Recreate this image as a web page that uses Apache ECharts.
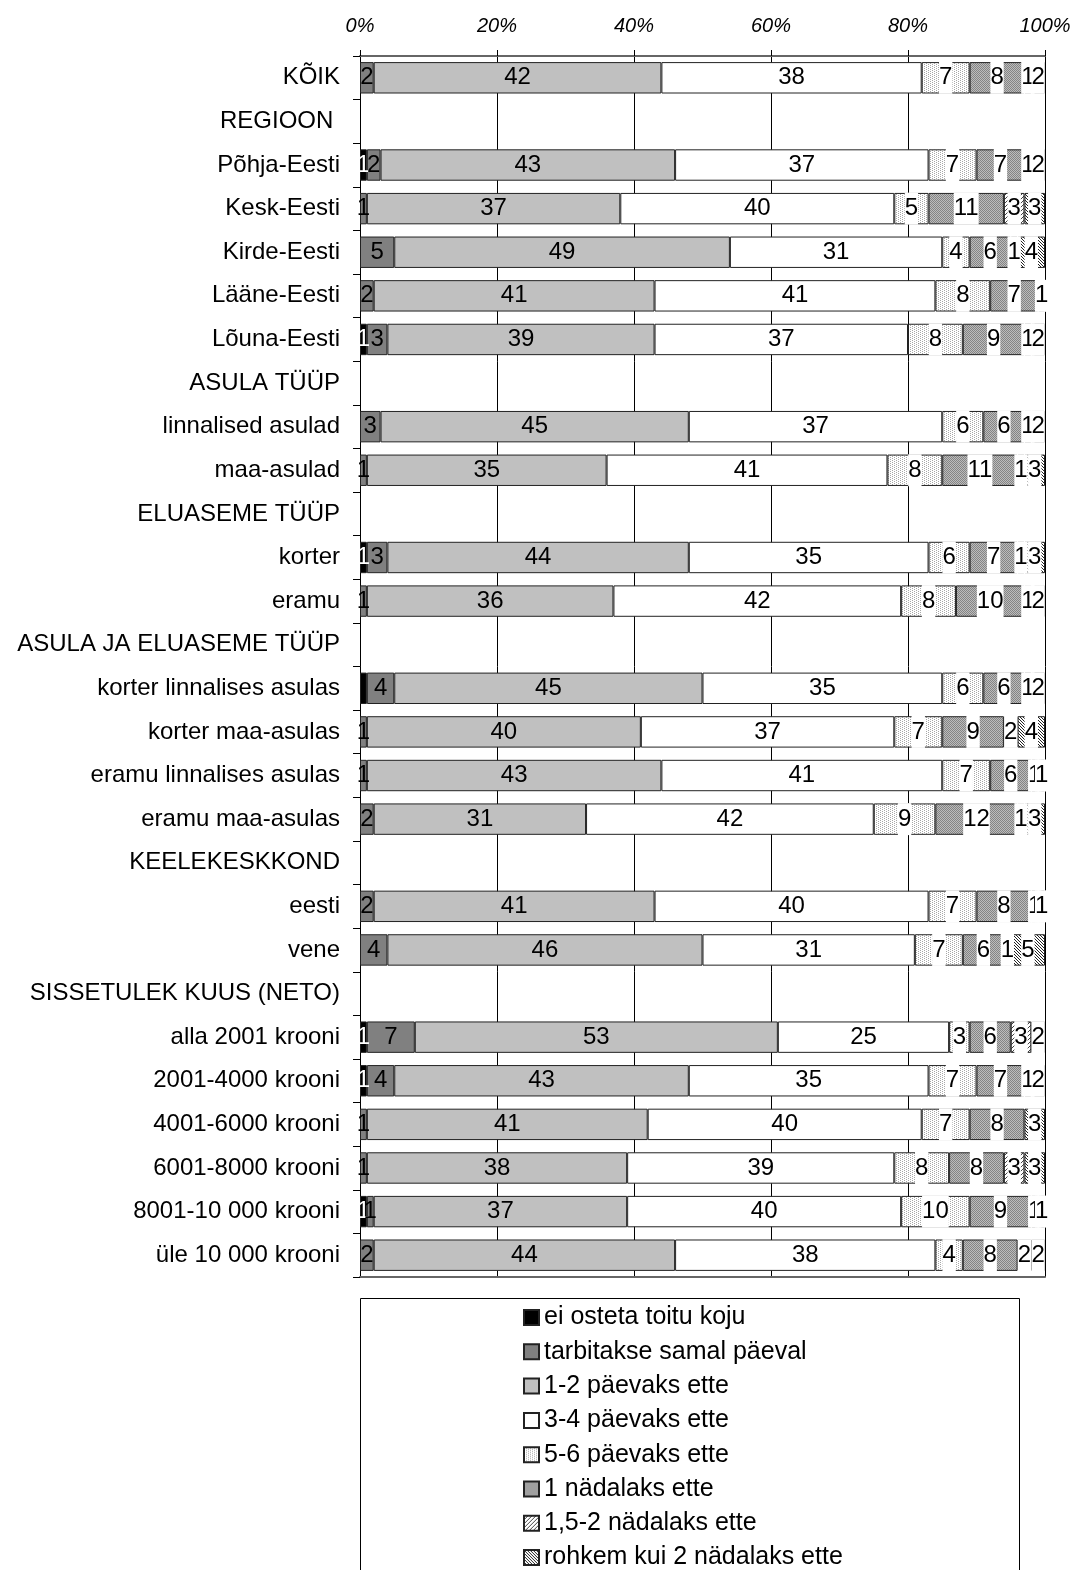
<!DOCTYPE html>
<html><head><meta charset="utf-8">
<script src="https://cdn.jsdelivr.net/npm/echarts@6/dist/echarts.min.js"></script>
<style>html,body{margin:0;padding:0;background:#fff}#c{width:1074px;height:1570px}</style>
</head><body><div id="c"></div>
<script>
const categories = ['KÕIK','REGIOON ','Põhja-Eesti','Kesk-Eesti','Kirde-Eesti','Lääne-Eesti','Lõuna-Eesti',
  'ASULA TÜÜP','linnalised asulad','maa-asulad','ELUASEME TÜÜP','korter','eramu',
  'ASULA JA ELUASEME TÜÜP','korter linnalises asulas','korter maa-asulas','eramu linnalises asulas','eramu maa-asulas',
  'KEELEKESKKOND','eesti','vene','SISSETULEK KUUS (NETO)','alla 2001 krooni','2001-4000 krooni','4001-6000 krooni',
  '6001-8000 krooni','8001-10 000 krooni','üle 10 000 krooni'];
const seriesNames = ['ei osteta toitu koju','tarbitakse samal päeval','1-2 päevaks ette','3-4 päevaks ette',
  '5-6 päevaks ette','1 nädalaks ette','1,5-2 nädalaks ette','rohkem kui 2 nädalaks ette'];
const xTicks = [0,20,40,60,80,100];
const eiOsteta   = [0,null,1,0,0,0,1,null,0,0,null,1,0,null,1,0,0,0,null,0,0,null,1,1,0,0,1,0];
const samalPaeval= [2,null,2,1,5,2,3,null,3,1,null,3,1,null,4,1,1,2,null,2,4,null,7,4,1,1,1,2];
const paev12     = [42,null,43,37,49,41,39,null,45,35,null,44,36,null,45,40,43,31,null,41,46,null,53,43,41,38,37,44];
const paev34     = [38,null,37,40,31,41,37,null,37,41,null,35,42,null,35,37,41,42,null,40,31,null,25,35,40,39,40,38];
const paev56     = [7,null,7,5,4,8,8,null,6,8,null,6,8,null,6,7,7,9,null,7,7,null,3,7,7,8,10,4];
const nadal1     = [8,null,7,11,6,7,9,null,6,11,null,7,10,null,6,9,6,12,null,8,6,null,6,7,8,8,9,8];
const nadal152   = [1,null,1,3,1,1,1,null,1,1,null,1,1,null,1,2,1,1,null,1,1,null,3,1,0,3,1,2];
const nadal2plus = [2,null,2,3,4,0,2,null,2,3,null,3,2,null,2,4,1,3,null,1,5,null,2,2,3,3,1,2];
const hiddenLabels = {0: ['korter linnalises asulas']};

function pat(w, h, bg, pts) {
  const c = document.createElement('canvas'); c.width = w; c.height = h;
  const g = c.getContext('2d'); g.fillStyle = bg; g.fillRect(0,0,w,h);
  pts.forEach(p => { g.fillStyle = p[2]; g.fillRect(p[0], p[1], 1, 1); });
  return {image: c, repeat: 'repeat'};
}
const colors = [
  '#000000', '#808080', '#c0c0c0', '#ffffff',
  pat(4,4,'#ffffff',[[0,0,'#a8a8a8'],[2,1,'#a8a8a8'],[0,2,'#a8a8a8'],[2,3,'#a8a8a8']]),
  pat(2,2,'#bcbcbc',[[0,0,'#848484'],[1,1,'#848484']]),
  pat(4,4,'#ffffff',[[3,0,'#444'],[2,1,'#444'],[1,2,'#444'],[0,3,'#444']]),
  pat(3,3,'#ffffff',[[0,0,'#222'],[1,1,'#222'],[2,2,'#222']])
];
const allData = [eiOsteta, samalPaeval, paev12, paev34, paev56, nadal1, nadal152, nadal2plus];
const FONT = '"Liberation Sans", Arial, sans-serif';

const series = allData.map((arr, si) => ({
  name: seriesNames[si], type: 'bar', stack: 'total', barCategoryGap: '28%',
  itemStyle: {color: colors[si], borderColor: '#222', borderWidth: 1},
  label: {
    show: true, position: 'inside', fontFamily: FONT, fontSize: 24, lineHeight: 24,
    color: si === 0 ? '#fff' : '#000',
    backgroundColor: si >= 4 ? '#fff' : 'transparent', padding: si >= 4 ? [4,0] : 0,
    formatter: p => p.value
  },
  emphasis: {disabled: true},
  data: arr.map((v, i) => {
    if (v === null || v === 0) return null;
    if (hiddenLabels[si] && hiddenLabels[si].includes(categories[i])) return {value: v, label: {show: false}};
    return v;
  })
}));

const chart = echarts.init(document.getElementById('c'), null, {renderer: 'canvas'});
chart.setOption({
  animation: false,
  backgroundColor: '#fff',
  grid: {left: 360, top: 56, width: 685, height: 1221, containLabel: false},
  xAxis: [{
    type: 'value', position: 'top', min: 0, max: 100, interval: 20,
    axisLine: {show: true, lineStyle: {color: '#666', width: 2}},
    axisTick: {show: true, length: 6, lineStyle: {color: '#000'}},
    axisLabel: {formatter: v => xTicks.includes(v) ? v + '%' : '', fontFamily: FONT, fontSize: 20, fontStyle: 'italic', color: '#000', margin: 20},
    splitLine: {show: true, lineStyle: {color: '#000', width: 1}}
  }, {
    type: 'value', position: 'bottom', min: 0, max: 100, interval: 20,
    axisLine: {show: true, lineStyle: {color: '#666', width: 2}},
    axisTick: {show: false}, axisLabel: {show: false}, splitLine: {show: false}
  }],
  yAxis: {
    type: 'category', data: categories, inverse: true,
    axisLine: {show: true, lineStyle: {color: '#000', width: 1}},
    axisTick: {show: true, length: 7, alignWithLabel: false, lineStyle: {color: '#000'}},
    axisLabel: {fontFamily: FONT, fontSize: 24, color: '#000', margin: 20}
  },
  legend: {
    orient: 'vertical', left: 523, top: 1305, height: 400, padding: 0, icon: 'rect',
    itemWidth: 15, itemHeight: 15, itemGap: 9.3,
    textStyle: {fontFamily: FONT, fontSize: 25, lineHeight: 25, color: '#000'},
    data: seriesNames, selectedMode: false
  },
  graphic: [{
    type: 'rect', left: 360, top: 1298, z: -1,
    shape: {x: 0, y: 0, width: 659, height: 300},
    style: {fill: '#fff', stroke: '#000', lineWidth: 1}
  }],
  series: series
});
</script></body></html>
